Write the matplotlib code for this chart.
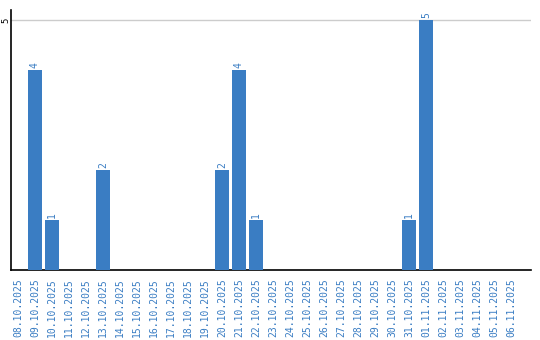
import matplotlib
matplotlib.use("Agg")
import matplotlib.pyplot as plt

dates = ["08.10.2025", "09.10.2025", "10.10.2025", "11.10.2025", "12.10.2025",
         "13.10.2025", "14.10.2025", "15.10.2025", "16.10.2025", "17.10.2025",
         "18.10.2025", "19.10.2025", "20.10.2025", "21.10.2025", "22.10.2025",
         "23.10.2025", "24.10.2025", "25.10.2025", "26.10.2025", "27.10.2025",
         "28.10.2025", "29.10.2025", "30.10.2025", "31.10.2025", "01.11.2025",
         "02.11.2025", "03.11.2025", "04.11.2025", "05.11.2025", "06.11.2025"]
counts = [0, 4, 1, 0, 0, 2, 0, 0, 0, 0, 0, 0, 2, 4, 1,
          0, 0, 0, 0, 0, 0, 0, 0, 1, 5, 0, 0, 0, 0, 0]

blue = "#3a7dc3"
W, H = 540, 340
fig = plt.figure(figsize=(W / 100, H / 100), dpi=100)
left, right, top, bottom = 11, 531, 10, 270
ax = fig.add_axes([left / W, 1 - bottom / H, (right - left) / W, (bottom - top) / H])

x = list(range(len(dates)))
ax.bar(x, counts, width=0.82, color=blue, zorder=3)
for xi, v in zip(x, counts):
    if v > 0:
        ax.text(xi, v + 0.04, str(v), rotation=90, ha="center", va="bottom",
                color=blue, fontsize=7, family="DejaVu Sans Mono")

ax.set_xlim(-0.41, 30.18)
ax.set_ylim(0, 5.2)
ax.set_yticks([5])
ax.set_yticklabels(["5"], rotation=90, va="center", fontsize=6.5, family="DejaVu Sans Mono")
ax.tick_params(axis="y", length=0, pad=0.5)
ax.yaxis.grid(True, color="#cccccc", linewidth=1, zorder=0)
ax.set_xticks(x)
ax.set_xticklabels(dates, rotation=90, color=blue, fontsize=7, family="DejaVu Sans Mono")
ax.tick_params(axis="x", length=0, pad=6)
for s in ["top", "right"]:
    ax.spines[s].set_visible(False)
for s in ["left", "bottom"]:
    ax.spines[s].set_color("black")
    ax.spines[s].set_linewidth(1.2)

fig.savefig("out.png", dpi=100)
